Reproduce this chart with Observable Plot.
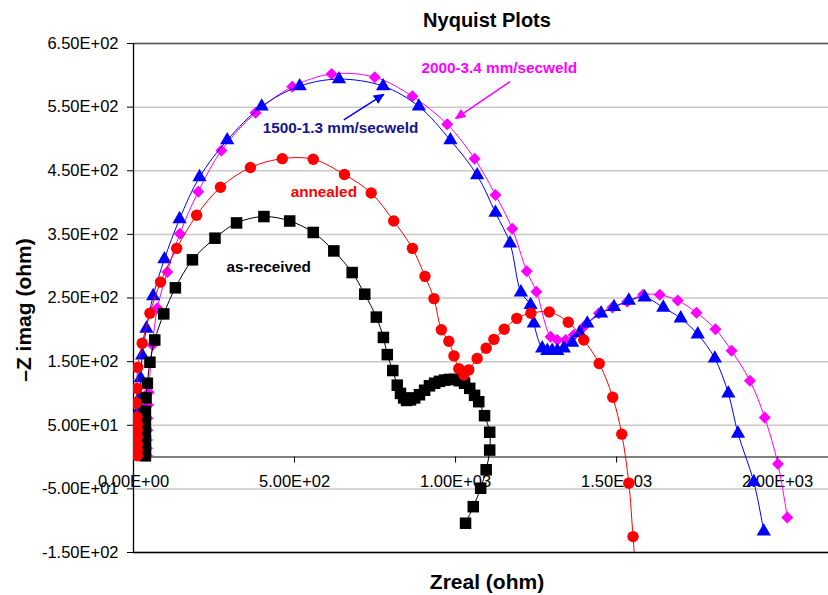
<!DOCTYPE html>
<html><head><meta charset="utf-8">
<script src="https://cdn.jsdelivr.net/npm/d3@7"></script>
<script src="https://cdn.jsdelivr.net/npm/@observablehq/plot@0.6"></script>
<style>
body{margin:0;background:#fff;}
#chart{width:828px;height:595px;}
</style>
</head><body><div id="chart"></div>
<script>
// ---- data (Zreal in ohm, -Zimag in ohm) ----
const asReceivedX = [37,37,37,37,37,37,39,43,51,66,94,130,183,253,320,405,485,558,622,679,718,754,776,788,805,819,829,839,848,860,873,888,904,919,935,950,966,981,997,1012,1028,1044,1059,1072,1090,1106,1106,1095,1078,1055,1031];
const asReceivedY = [2,13,25,39,55,72,93,116,149,184,225,266,310,344,368,378,371,353,324,290,256,220,188,161,136,113,100,93,89,90,93,98,105,112,116,119,121,122,122,120,116,108,97,87,65,39,11,-20,-49,-78,-104];

const annealedX = [12,12,12,12,12,12,11,9,11,13,27,51,84,134,196,270,363,462,558,655,738,808,866,905,933,956,979,995,1010,1026,1041,1067,1095,1119,1151,1190,1234,1291,1350,1398,1446,1488,1516,1538,1551,1559];
const annealedY = [2,11,20,31,42,52,63,85,108,141,179,226,275,328,380,424,455,469,468,444,415,371,328,284,249,200,182,159,139,129,137,155,171,185,201,218,226,228,212,184,147,94,36,-41,-125,-178];

const weld1500X = [22,22,22,22,20,20,20,22,27,40,61,96,143,205,291,398,516,638,775,886,984,1067,1124,1169,1203,1233,1243,1269,1285,1300,1316,1336,1362,1385,1409,1452,1492,1538,1587,1645,1699,1752,1805,1847,1877,1926,1957];
const weld1500Y = [2,14,28,44,60,77,95,124,160,202,253,311,374,440,498,551,583,594,583,551,498,443,384,336,259,239,210,171,167,167,167,171,180,195,210,226,236,246,251,235,218,193,155,100,37,-39,-117];

const weld2000X = [42,42,42,43,43,45,47,59,74,105,144,201,273,379,493,615,749,866,974,1059,1124,1176,1221,1251,1295,1316,1342,1367,1398,1445,1487,1533,1582,1634,1690,1748,1807,1857,1914,1960,2001,2030];
const weld2000Y = [2,14,27,42,61,82,102,176,234,291,351,417,482,541,582,602,597,567,523,469,412,359,292,260,189,184,184,192,205,226,235,244,255,255,246,227,201,167,120,62,-11,-95];

const xTicks = [0, 500, 1000, 1500, 2000];
const yTicks = [-150, -50, 50, 150, 250, 350, 450, 550, 650];

const labelTexts = ["2000-3.4 mm/secweld", "1500-1.3 mm/secweld", "annealed", "as-received"];
const labelX = [894, 401, 488, 289];
const labelY = [611, 517, 416, 299];

const arrowFromX = [1169, 653];
const arrowFromY = [590, 530];
const arrowToX = [1000, 777];
const arrowToY = [532, 570];

const titleText = "Nyquist Plots";
const xLabelText = "Zreal (ohm)";
const yLabelText = "\u2013Z imag (ohm)";

// ---- helpers ----
const rows = (xs, ys) => xs.map((x, i) => ({x, y: ys[i]}));
const fmtE = d => {
  const [m, e] = (+d).toExponential(2).split("e");
  return m + "E" + e[0] + e.slice(1).padStart(2, "0");
};

const series = [
  {data: rows(weld2000X, weld2000Y), color: "#ff00ff", symbol: "diamond2", r: 5.4},
  {data: rows(weld1500X, weld1500Y), color: "#0000ff", symbol: "triangle", r: 5.3},
  {data: rows(asReceivedX, asReceivedY), color: "#000000", symbol: "square", r: 6.5},
  {data: rows(annealedX, annealedY), color: "#ff0000", symbol: "circle", r: 5.7}
];
const labelColors = ["#ff00ff", "#14148c", "#ff0000", "#000000"];
const arrowColors = ["#ff00ff", "#0000ff"];

const labels = labelTexts.map((t, i) => ({t, x: labelX[i], y: labelY[i], c: labelColors[i]}));
const arrows = arrowFromX.map((x1, i) => ({x1, y1: arrowFromY[i], x2: arrowToX[i], y2: arrowToY[i], c: arrowColors[i]}));

const headMarker = (color) => d3.create("svg:marker")
  .attr("viewBox", "0 -5 10 10")
  .attr("refX", 9)
  .attr("markerWidth", 11)
  .attr("markerHeight", 11)
  .attr("markerUnits", "userSpaceOnUse")
  .attr("orient", "auto")
  .attr("fill", color)
  .attr("stroke", "none")
  .call(m => m.append("path").attr("d", "M0,-4.5L10,0L0,4.5Z"))
  .node();

const font = "'Liberation Sans', Arial, Helvetica, sans-serif";

const marks = [
  Plot.ruleY(yTicks, {stroke: "#c8c8c8", strokeWidth: 1.5}),
  Plot.ruleY([650], {stroke: "#555", strokeWidth: 1.3}),
  Plot.ruleY([-150], {stroke: "#000", strokeWidth: 1.3}),
  Plot.ruleX([0], {stroke: "#000", strokeWidth: 1.3}),
  Plot.ruleY([0], {stroke: "#555", strokeWidth: 1.6}),
  Plot.ruleX(xTicks, {y1: 0, y2: -9.4, stroke: "#000"}),
  Plot.text(xTicks, {x: d => d, y: 0, dy: 24.5, text: fmtE, fontSize: 16.5, fill: "#000"})
];
for (const s of series) {
  marks.push(Plot.line(s.data, {x: "x", y: "y", stroke: s.color, strokeWidth: 1, curve: "catmull-rom", clip: true}));
  marks.push(Plot.dot(s.data, {x: "x", y: "y", fill: s.color, stroke: "none", symbol: s.symbol, r: s.r, clip: true}));
}
for (const a of arrows) {
  marks.push(Plot.link([a], {x1: "x1", y1: "y1", x2: "x2", y2: "y2", stroke: a.c, strokeWidth: 1.5, markerEnd: headMarker}));
}
marks.push(Plot.text(labels, {x: "x", y: "y", text: "t", fill: "c", textAnchor: "start", fontSize: 15.3, fontWeight: "bold"}));
marks.push(Plot.text([titleText], {frameAnchor: "top", text: d => d, dy: -23, dx: 6, textAnchor: "middle", lineAnchor: "middle", fontSize: 20, fontWeight: "bold"}));
marks.push(Plot.text([xLabelText], {frameAnchor: "bottom", text: d => d, dy: 30, dx: 6, textAnchor: "middle", lineAnchor: "middle", fontSize: 21, fontWeight: "bold"}));
marks.push(Plot.text([yLabelText], {frameAnchor: "left", text: d => d, dx: -109, dy: 12, rotate: -90, textAnchor: "middle", fontSize: 21, fontWeight: "bold"}));

const chart = Plot.plot({
  width: 828,
  height: 595,
  marginLeft: 133,
  marginRight: 0,
  marginTop: 43,
  marginBottom: 43,
  style: {fontFamily: font, fontSize: "16.5px", color: "#000", background: "#fff", overflow: "visible"},
  x: {domain: [0, 2158], axis: null},
  y: {domain: [-150, 650], ticks: yTicks, tickFormat: fmtE, tickSize: 6, tickPadding: 9, label: null},
  marks
});
document.getElementById("chart").appendChild(chart);
</script>
</body></html>
